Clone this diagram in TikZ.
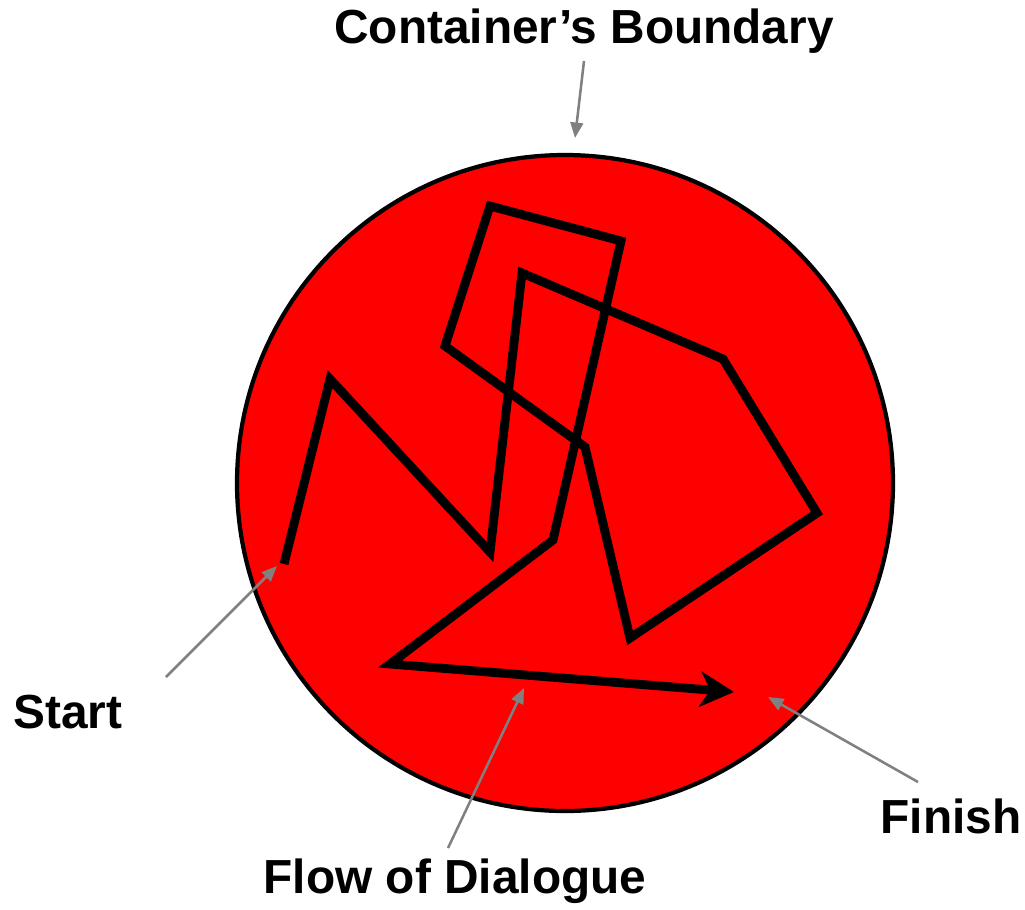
\documentclass[tikz,border=0pt]{standalone}
\usepackage{fontspec}
\setmainfont{Liberation Sans}
\usetikzlibrary{arrows.meta,positioning}
\definecolor{dlgred}{RGB}{255,0,0}
\tikzset{
  lbl/.style={font=\fontsize{34}{40}\selectfont\bfseries,inner sep=0pt},
  pointer/.style={draw=gray,line width=1.8pt,-{Triangle[length=11pt,width=9pt]}},
  flow/.style={line width=6.3pt,miter limit=10,-{Stealth[length=24pt,width=25pt,inset=7pt]}}
}
\begin{document}
\begin{tikzpicture}[x=0.025cm,y=-0.025cm]
\useasboundingbox (0,0) rectangle (1025,909);
% container
\coordinate (O) at (565,483);
\filldraw[fill=dlgred,draw=black,line width=3pt] (O) circle (328);
% flow of dialogue
\coordinate (p1) at (284,564);
\coordinate (p2) at (330,379);
\coordinate (p3) at (490,552);
\coordinate (p4) at (522,273);
\coordinate (p5) at (723,359);
\coordinate (p6) at (817,513);
\coordinate (p7) at (630,638);
\coordinate (p8) at (585,447);
\coordinate (p9) at (445,346);
\coordinate (p10) at (490,206);
\coordinate (p11) at (621,241);
\coordinate (p12) at (553,540);
\coordinate (p13) at (390,664);
\coordinate (p14) at (734,692);
\draw[flow] (p1)--(p2)--(p3)--(p4)--(p5)--(p6)--(p7)--(p8)--(p9)--(p10)--(p11)--(p12)--(p13)--(p14);
% labels
\node[lbl] (boundary) at (584,31) {Container’s Boundary};
\node[lbl] (start) at (68,712) {Start};
\node[lbl] (finish) at (951,816) {Finish};
\node[lbl] (dialogue) at (455,881) {Flow of Dialogue};
\coordinate (bfrom) at (584,61);
\coordinate (bto) at (575,138);
\coordinate (sfrom) at (166,677);
\coordinate (sto) at (277,566);
\coordinate (ffrom) at (918,782);
\coordinate (fto) at (768,697);
\coordinate (dfrom) at (448,848);
\coordinate (dto) at (524,688);
\draw[pointer] (bfrom)--(bto);
\draw[pointer] (sfrom)--(sto);
\draw[pointer] (ffrom)--(fto);
\draw[pointer] (dfrom)--(dto);
\end{tikzpicture}
\end{document}
